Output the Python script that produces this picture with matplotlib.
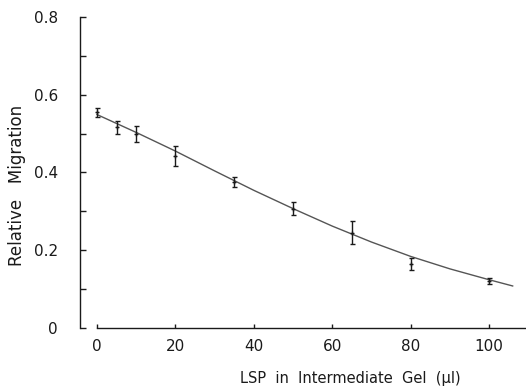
import matplotlib
matplotlib.use("Agg")
import matplotlib.pyplot as plt

# measured points (LSP volume in µl, relative migration, error half-width)
lsp_ul = [0, 5, 10, 20, 35, 50, 65, 80, 100]
migration = [0.555, 0.516, 0.499, 0.443, 0.376, 0.307, 0.245, 0.165, 0.121]
migration_err = [0.011, 0.016, 0.020, 0.026, 0.013, 0.017, 0.029, 0.015, 0.008]

# fitted curve
curve_x = [0, 10, 20, 30, 40, 50, 60, 70, 80, 90, 100, 106]
curve_y = [0.549, 0.503, 0.455, 0.404, 0.354, 0.307, 0.262, 0.221, 0.184, 0.152, 0.124, 0.108]

y_ticks = [0, 0.2, 0.4, 0.6, 0.8]
y_tick_labels = ["0", "0.2", "0.4", "0.6", "0.8"]
y_minor = [0.1, 0.3, 0.5, 0.7]
x_ticks = [0, 20, 40, 60, 80, 100]

ink = "#1a1a1a"
plt.rcParams["font.family"] = "DejaVu Sans"

fig = plt.figure(figsize=(5.26, 3.89), dpi=100)
# axes: left spine at px 80, y=0 at px 328, y=0.8 at px 17
ax = fig.add_axes([80 / 526, 49 / 389, 446 / 526, 330 / 389])
ax.set_xlim(-4.34, 109.4)
ax.set_ylim(-0.031, 0.818)

ax.plot(curve_x, curve_y, color="#555555", lw=1.0)
ax.errorbar(lsp_ul, migration, yerr=migration_err, fmt="none",
            ecolor=ink, elinewidth=1.0, capsize=1.8, capthick=1.0)
ax.plot(lsp_ul, migration, "+", color=ink, ms=3, mew=1.0)

for s in ["top", "right"]:
    ax.spines[s].set_visible(False)
ax.spines["left"].set_bounds(0, 0.8)
ax.spines["bottom"].set_position(("data", 0))
ax.spines["bottom"].set_bounds(0, 109.4)
for s in ["left", "bottom"]:
    ax.spines[s].set_color(ink)
    ax.spines[s].set_linewidth(1.0)

ax.set_yticks(y_ticks)
ax.set_yticklabels(y_tick_labels)
ax.set_yticks(y_minor, minor=True)
ax.set_xticks(x_ticks)
ax.tick_params(axis="y", which="both", direction="in", length=4, width=1,
               colors=ink, labelsize=11, pad=16)
ax.tick_params(axis="x", direction="in", length=3, width=1,
               colors=ink, labelsize=11, pad=8)

fig.text(17 / 526, 1 - 185 / 389, "Relative   Migration", rotation=90,
         ha="center", va="center", fontsize=12, color=ink)
fig.text(350 / 526, 1 - 378 / 389, "LSP  in  Intermediate  Gel  (µl)",
         ha="center", va="center", fontsize=10.5, color=ink)

fig.savefig("out.png", dpi=100)
